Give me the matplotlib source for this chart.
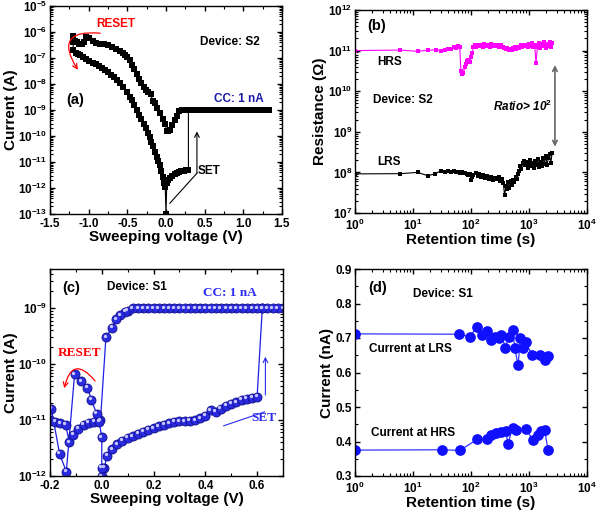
import math
import matplotlib
matplotlib.use("Agg")
import matplotlib.pyplot as plt
from matplotlib.ticker import LogLocator, MultipleLocator, FuncFormatter, NullFormatter
from matplotlib.transforms import offset_copy

# ---------------- data ----------------
# (a) device S2, I-V sweep (sweep order)
a_up_v = [0.01, -0.01, -0.04, -0.08, -0.11, -0.14, -0.17, -0.20, -0.23, -0.26, -0.29, -0.32,
          -0.35, -0.38, -0.41, -0.44, -0.47, -0.50, -0.53, -0.56, -0.60, -0.65, -0.70, -0.75,
          -0.80, -0.85, -0.90, -0.95, -1.00, -1.03, -1.06, -1.09, -1.12, -1.15, -1.18, -1.20, -1.20]
a_up_i = [1.5e-10, 3e-10, 4.5e-10, 7.4e-10, 1.2e-9, 1.8e-9, 2.3e-9, 4e-9, 5e-9, 6e-9, 8e-9, 1.1e-8,
          1.6e-8, 2.5e-8, 3.8e-8, 5.5e-8, 8.4e-8, 1.1e-7, 1.35e-7, 1.6e-7, 1.9e-7, 2.3e-7, 2.7e-7, 3.1e-7,
          3.4e-7, 3.6e-7, 3.8e-7, 4.6e-7, 6e-7, 6.6e-7, 4e-7, 3.6e-7, 3.6e-7, 4.2e-7, 4.5e-7, 4e-7, 7e-7]
a_lo_v = [-1.20, -1.17, -1.14, -1.11, -1.07, -1.03, -0.99, -0.95, -0.91, -0.87, -0.83, -0.79,
          -0.75, -0.71, -0.67, -0.63, -0.59, -0.55, -0.51, -0.47, -0.44, -0.41, -0.38, -0.35,
          -0.32, -0.29, -0.26, -0.23, -0.21, -0.19, -0.17, -0.14, -0.12, -0.10, -0.08, -0.06,
          -0.04, -0.02, -0.01, 0.00]
a_lo_i = [2e-7, 1.6e-7, 1.4e-7, 1.25e-7, 1.05e-7, 9e-8, 7.8e-8, 6.7e-8, 5.8e-8, 5e-8, 4.2e-8, 3.4e-8,
          2.8e-8, 2.2e-8, 1.8e-8, 1.4e-8, 1.05e-8, 7.5e-9, 5e-9, 3.3e-9, 2.5e-9, 1.6e-9, 1e-9, 6.5e-10,
          4.5e-10, 3e-10, 2e-10, 1.3e-10, 9e-11, 6e-11, 4e-11, 2.4e-11, 1.6e-11, 1.1e-11, 7.5e-12, 4.5e-12,
          2.7e-12, 1.6e-12, 1.1e-12, 1e-13]
a_set_v = [0.01, 0.03, 0.05, 0.08, 0.11, 0.14, 0.17, 0.20, 0.23, 0.26, 0.29]
a_set_i = [1.5e-12, 2e-12, 2.5e-12, 3e-12, 3.5e-12, 3.9e-12, 4.2e-12, 4.5e-12, 4.7e-12, 4.9e-12, 5e-12]
a_cc_v = [0.29, 0.33, 0.38, 0.43, 0.48, 0.53, 0.58, 0.63, 0.68, 0.73, 0.78, 0.83, 0.88, 0.93,
          0.98, 1.03, 1.08, 1.13, 1.18, 1.23, 1.28, 1.33]
a_cc_i = [1e-9] * len(a_cc_v)
a_ret_v = [0.25, 0.21, 0.17, 0.14, 0.11, 0.08, 0.05, 0.03]
a_ret_i = [1e-9, 1e-9, 9e-10, 6e-10, 4e-10, 2.6e-10, 1.7e-10, 1.5e-10]

# (b) device S2 retention
hrs_t = [1, 6, 12, 18, 25, 30, 35, 40, 45, 50, 55, 60, 64, 67, 70, 74, 78, 82, 86, 90, 95, 100,
         105, 110, 115, 120, 130, 140, 150, 160, 170, 180, 195, 210, 225, 240, 255, 270, 290, 310,
         330, 350, 375, 400, 425, 450, 480, 510, 540, 570, 600, 640, 680, 720, 760, 800, 850, 900,
         950, 1000, 1060, 1120, 1180, 1250, 1320, 1400, 1480, 1560, 1650, 1740, 1840, 1940, 2050,
         2160, 2280, 2400, 2500]
hrs_r = [10, 10.3, 9.6, 10.2, 10.5, 10, 10.4, 11, 11.2, 12, 11.5, 13, 12.2, 3.1, 2.7, 2.8, 4, 4.8,
         5.5, 6, 5.2, 7, 8.5, 12, 13.5, 12.5, 14, 12.8, 13.5, 12.5, 14.2, 13, 13.8, 12.6, 14.5, 13.2,
         14, 12.8, 13.6, 12.4, 13.5, 12, 11.5, 10.8, 11.8, 10.5, 11.2, 10.2, 11.4, 12.2, 11, 12.6,
         11.8, 13.4, 12.2, 14, 12.8, 13.6, 12.4, 14.6, 13, 15, 12.2, 14, 5, 12.5, 15.5, 11.5, 14.2,
         12.8, 16, 11.8, 14.5, 13, 16.5, 12, 15.5]  # x1e10 ohm
lrs_t = [1, 6, 12, 18, 24, 30, 35, 40, 45, 50, 55, 60, 65, 70, 75, 80, 85, 90, 95, 100, 105, 110,
         120, 130, 140, 150, 160, 175, 190, 205, 220, 240, 260, 280, 300, 320, 340, 360, 380, 400,
         420, 440, 460, 480, 500, 530, 560, 590, 620, 650, 680, 710, 740, 780, 820, 860, 900, 950,
         1000, 1050, 1100, 1160, 1220, 1280, 1350, 1420, 1500, 1580, 1660, 1750, 1840, 1940, 2040,
         2150, 2260, 2380, 2500]
lrs_r = [9.2, 9.3, 10, 8.3, 9.2, 11, 10.5, 10.8, 10.2, 10.6, 10, 10.4, 9.8, 10.2, 9.6, 9.9, 9, 8.5,
         9.3, 6.6, 7.5, 8.8, 9.5, 8.2, 9, 7.8, 8.5, 7.2, 8, 7, 7.6, 6.5, 7.4, 6.8, 7.5, 6.2, 7, 5.5,
         2.7, 4.5, 3.8, 5.8, 4.2, 6, 5, 6.5, 5.8, 7.5, 6.8, 9, 11, 14, 12, 17, 19, 15, 18, 13, 16, 20,
         14, 17, 12.5, 19, 15, 21, 13.5, 18, 14, 23, 16, 26, 15, 22, 28, 17, 30]  # x1e7 ohm

# (c) device S1, I-V sweep (sweep order)
c_set_v = [0.00, 0.01, 0.02, 0.04, 0.06, 0.08, 0.10, 0.12, 0.14, 0.16, 0.18, 0.20, 0.22, 0.24,
           0.26, 0.28, 0.30, 0.32, 0.34, 0.36, 0.38, 0.40, 0.42, 0.44, 0.46, 0.48, 0.50, 0.52,
           0.54, 0.56, 0.58, 0.60]
c_set_i = [1e-12, 1.4e-12, 2.3e-12, 3e-12, 3.7e-12, 4.3e-12, 4.8e-12, 5.2e-12, 5.7e-12, 6.2e-12,
           6.7e-12, 7.2e-12, 7.8e-12, 8.2e-12, 8.7e-12, 9.3e-12, 9.6e-12, 9.5e-12, 9.7e-12, 1e-11,
           1.07e-11, 1.2e-11, 1.5e-11, 1.4e-11, 1.6e-11, 1.8e-11, 1.95e-11, 2.1e-11, 2.3e-11,
           2.4e-11, 2.5e-11, 2.6e-11]
c_cc_v = [0.62, 0.70, 0.68, 0.66, 0.64, 0.62, 0.60, 0.58, 0.56, 0.54, 0.52, 0.50, 0.48, 0.46,
          0.44, 0.42, 0.40, 0.38, 0.36, 0.34, 0.32, 0.30, 0.28, 0.26, 0.24, 0.22, 0.20, 0.18,
          0.16, 0.14, 0.12]
c_cc_i = [1e-9] * len(c_cc_v)
c_ret_v = [0.10, 0.09, 0.07, 0.055, 0.04, 0.016]
c_ret_i = [9e-10, 8.7e-10, 7.5e-10, 6.3e-10, 4.5e-10, 3e-10]
c_reset_v = [-0.005, -0.02, -0.04, -0.056, -0.08, -0.105, -0.137, -0.163, -0.195]
c_reset_i = [1e-11, 1.3e-11, 2.3e-11, 3.8e-11, 5e-11, 6.6e-11, 1.2e-12, 2.5e-12, 1.6e-11]
c_back_v = [-0.20, -0.18, -0.16, -0.14, -0.125, -0.11, -0.09, -0.07, -0.05, -0.03, -0.01, 0.00, 0.00]
c_back_i = [1e-11, 9.3e-12, 8.7e-12, 8.2e-12, 4e-12, 5.5e-12, 7e-12, 8.2e-12, 9e-12, 9.3e-12,
            9.3e-12, 4.9e-12, 1.4e-12]

# (d) device S1 retention
d_lrs_t = [1, 62, 95, 128, 152, 190, 225, 257, 298, 335, 390, 454, 520, 569, 648, 710, 790, 880,
           1130, 1520, 1870, 2130]
d_lrs_i = [0.712, 0.711, 0.704, 0.733, 0.708, 0.72, 0.694, 0.704, 0.699, 0.71, 0.672, 0.704, 0.723,
           0.672, 0.621, 0.699, 0.67, 0.687, 0.652, 0.652, 0.636, 0.648]
d_hrs_t = [1, 32, 64, 128, 190, 225, 275, 335, 395, 435, 520, 600, 880, 1180, 1430, 1640, 1870, 2130]
d_hrs_i = [0.375, 0.376, 0.374, 0.406, 0.408, 0.418, 0.425, 0.428, 0.43, 0.394, 0.44, 0.432, 0.437,
           0.403, 0.418, 0.43, 0.432, 0.374]

# ---------------- style ----------------
plt.rcParams.update({
    "font.family": "Liberation Sans",
    "font.weight": "bold",
    "font.size": 8.5,
    "axes.labelweight": "bold",
    "axes.labelsize": 11,
    "axes.linewidth": 1.0,
    "mathtext.fontset": "custom",
    "mathtext.rm": "Liberation Sans:bold",
    "mathtext.bf": "Liberation Sans:bold",
    "mathtext.it": "Liberation Sans:bold:italic",
    "mathtext.default": "bf",
    "xtick.direction": "in",
    "ytick.direction": "in",
    "xtick.top": True,
    "ytick.right": True,
    "xtick.major.size": 3.5,
    "ytick.major.size": 3.5,
    "xtick.minor.size": 2,
    "ytick.minor.size": 2,
    "xtick.major.width": 1,
    "ytick.major.width": 1,
    "xtick.minor.width": 0.8,
    "ytick.minor.width": 0.8,
    "xtick.major.pad": 3.2,
    "ytick.major.pad": 2,
    "xtick.minor.visible": True,
    "ytick.minor.visible": True,
})

pow10 = FuncFormatter(lambda v, p: r"$10^{%d}$" % round(math.log10(v)))


def log_axis(axis):
    axis.set_major_locator(LogLocator(base=10, numticks=20))
    axis.set_minor_locator(LogLocator(base=10, subs=range(2, 10), numticks=200))
    axis.set_major_formatter(pow10)
    axis.set_minor_formatter(NullFormatter())


fig = plt.figure(figsize=(6.0, 5.15), dpi=100)
ax_a = fig.add_axes([50 / 600, 1 - 214 / 515, 232 / 600, 208 / 515])
ax_b = fig.add_axes([355 / 600, 1 - 213 / 515, 232 / 600, 203 / 515])
ax_c = fig.add_axes([50 / 600, 1 - 476 / 515, 233 / 600, 207 / 515])
ax_d = fig.add_axes([355 / 600, 1 - 476 / 515, 232 / 600, 207 / 515])

# ======================================================
# (a)
# ======================================================
a_v = a_up_v + a_lo_v + a_set_v + a_cc_v + a_ret_v
a_i = a_up_i + a_lo_i + a_set_i + a_cc_i + a_ret_i
ax_a.plot(a_v, a_i, "-", color="black", lw=0.8)
ax_a.plot(a_v, a_i, "s", color="black", ms=4.5, mew=0)
ax_a.set_yscale("log")
ax_a.set_xlim(-1.5, 1.5)
ax_a.set_ylim(1e-13, 1e-5)
log_axis(ax_a.yaxis)
ax_a.xaxis.set_major_locator(MultipleLocator(0.5))
ax_a.xaxis.set_minor_locator(MultipleLocator(0.25))
ax_a.xaxis.set_major_formatter(FuncFormatter(lambda v, p: "%.1f" % v))
ax_a.set_xlabel("Sweeping voltage (V)", labelpad=0)
ax_a.set_ylabel("Current (A)", labelpad=0)

ax_a.text(-0.65, 2.0e-6, "RESET", color="red", fontsize=8.5, ha="center", va="center")
ax_a.annotate("", xy=(-1.14, 3.5e-8), xytext=(-0.85, 9e-7),
              arrowprops=dict(arrowstyle="->", color="red", lw=0.9,
                              connectionstyle="arc3,rad=1.0", shrinkA=0, shrinkB=0))
ax_a.text(0.83, 4.1e-7, "Device: S2", fontsize=8.5, ha="center", va="center")
ax_a.text(-1.18, 2.4e-9, "(a)", fontsize=10.5, ha="center", va="center")
ax_a.text(0.94, 2.6e-9, "CC: 1 nA", color="#1a1aa8", fontsize=8.5, ha="center", va="center")
ax_a.text(0.56, 4.5e-12, "SET", fontsize=8.5, ha="center", va="center")
ax_a.plot([0.05, 0.40], [2.6e-13, 3.7e-12], color="black", lw=0.8)
ax_a.annotate("", xy=(0.40, 1.5e-10), xytext=(0.40, 3.7e-12),
              arrowprops=dict(arrowstyle="->", color="black", lw=0.8, shrinkA=0, shrinkB=0))

# ======================================================
# (b)
# ======================================================
ax_b.plot(hrs_t, [r * 1e10 for r in hrs_r], "-s", color="#ff00ff", lw=0.8, ms=3.4, mew=0)
ax_b.plot(lrs_t, [r * 1e7 for r in lrs_r], "-s", color="black", lw=0.8, ms=3.4, mew=0)
ax_b.set_xscale("log")
ax_b.set_yscale("log")
ax_b.set_xlim(1, 1e4)
ax_b.set_ylim(1e7, 1e12)
log_axis(ax_b.xaxis)
log_axis(ax_b.yaxis)
ax_b.set_xlabel("Retention time (s)", labelpad=0)
ax_b.set_ylabel("Resistance (\u03a9)", labelpad=1)

ax_b.text(2.4, 4e11, "(b)", fontsize=10.5, ha="center", va="center")
ax_b.text(4.0, 5.2e10, "HRS", fontsize=8.5, ha="center", va="center")
ax_b.text(6.7, 6e9, "Device: S2", fontsize=8.5, ha="center", va="center")
ax_b.text(3.9, 1.8e8, "LRS", fontsize=8.5, ha="center", va="center")
ax_b.text(760, 4.2e9, r"Ratio> 10$^{\mathit{2}}$", style="italic", fontsize=8.5,
          ha="center", va="center")
ax_b.annotate("", xy=(2800, 4.3e8), xytext=(2800, 4.4e10),
              arrowprops=dict(arrowstyle="<->", color="#666666", lw=1.2,
                              mutation_scale=8, shrinkA=0, shrinkB=0))

# ======================================================
# (c)
# ======================================================
c_v = c_set_v + c_cc_v + c_ret_v + c_reset_v + c_back_v
c_i = c_set_i + c_cc_i + c_ret_i + c_reset_i + c_back_i
ax_c.plot(c_v, c_i, "-", color="#1f1fe6", lw=0.9)
ax_c.plot(c_v, c_i, "o", ms=6.5, mfc="#2a2ae0", mec="#10108a", mew=0.6)
shine = offset_copy(ax_c.transData, fig=fig, x=-1.0, y=1.0, units="points")
ax_c.plot(c_v, c_i, "o", ms=2.4, color="#c8c8ff", mew=0, transform=shine)
ax_c.set_yscale("log")
ax_c.set_xlim(-0.2, 0.7)
ax_c.set_ylim(1e-12, 5e-9)
log_axis(ax_c.yaxis)
ax_c.xaxis.set_major_locator(MultipleLocator(0.2))
ax_c.xaxis.set_minor_locator(MultipleLocator(0.1))
ax_c.xaxis.set_major_formatter(FuncFormatter(lambda v, p: "%.1f" % v))
ax_c.set_xlabel("Sweeping voltage (V)", labelpad=0)
ax_c.set_ylabel("Current (A)", labelpad=0)

serif = "Liberation Serif"
ax_c.text(-0.117, 2.3e-9, "(c)", fontsize=10.5, ha="center", va="center")
ax_c.text(0.135, 2.4e-9, "Device: S1", fontsize=8.5, ha="center", va="center")
ax_c.text(0.494, 1.9e-9, "CC: 1 nA", family=serif, color="#2a2af0", fontsize=9.5,
          ha="center", va="center")
ax_c.text(-0.084, 1.6e-10, "RESET", family=serif, color="red", fontsize=9.5,
          ha="center", va="center")
ax_c.annotate("", xy=(-0.145, 3.7e-11), xytext=(-0.026, 5e-11),
              arrowprops=dict(arrowstyle="->", color="red", lw=0.9,
                              connectionstyle="arc3,rad=1.0", shrinkA=0, shrinkB=0))
ax_c.text(0.625, 1.1e-11, "SET", family=serif, color="#2a2af0", fontsize=9.5,
          ha="center", va="center")
ax_c.plot([0.471, 0.629], [7.9e-12, 1.4e-11], color="#2a2af0", lw=0.8)
ax_c.annotate("", xy=(0.632, 1.35e-10), xytext=(0.632, 2.8e-11),
              arrowprops=dict(arrowstyle="->", color="#2a2af0", lw=0.8, shrinkA=0, shrinkB=0))

# ======================================================
# (d)
# ======================================================
ax_d.plot(d_lrs_t, d_lrs_i, "-o", color="#3434ff", lw=0.9, ms=6.7, mfc="#1010ff", mec="#1010ff")
ax_d.plot(d_hrs_t, d_hrs_i, "-o", color="#3434ff", lw=0.9, ms=6.7, mfc="#1010ff", mec="#1010ff")
ax_d.set_xscale("log")
ax_d.set_xlim(1, 1e4)
ax_d.set_ylim(0.3, 0.9)
log_axis(ax_d.xaxis)
ax_d.yaxis.set_major_locator(MultipleLocator(0.1))
ax_d.yaxis.set_minor_locator(MultipleLocator(0.05))
ax_d.yaxis.set_major_formatter(FuncFormatter(lambda v, p: "%.1f" % v))
ax_d.set_xlabel("Retention time (s)", labelpad=0)
ax_d.set_ylabel("Current (nA)", labelpad=1)

ax_d.text(2.5, 0.846, "(d)", fontsize=10.5, ha="center", va="center")
ax_d.text(33, 0.828, "Device: S1", fontsize=8.5, ha="center", va="center")
ax_d.text(8.9, 0.668, "Current at LRS", fontsize=8.5, ha="center", va="center")
ax_d.text(10, 0.425, "Current at HRS", fontsize=8.5, ha="center", va="center")

fig.savefig("out.png", dpi=100)
